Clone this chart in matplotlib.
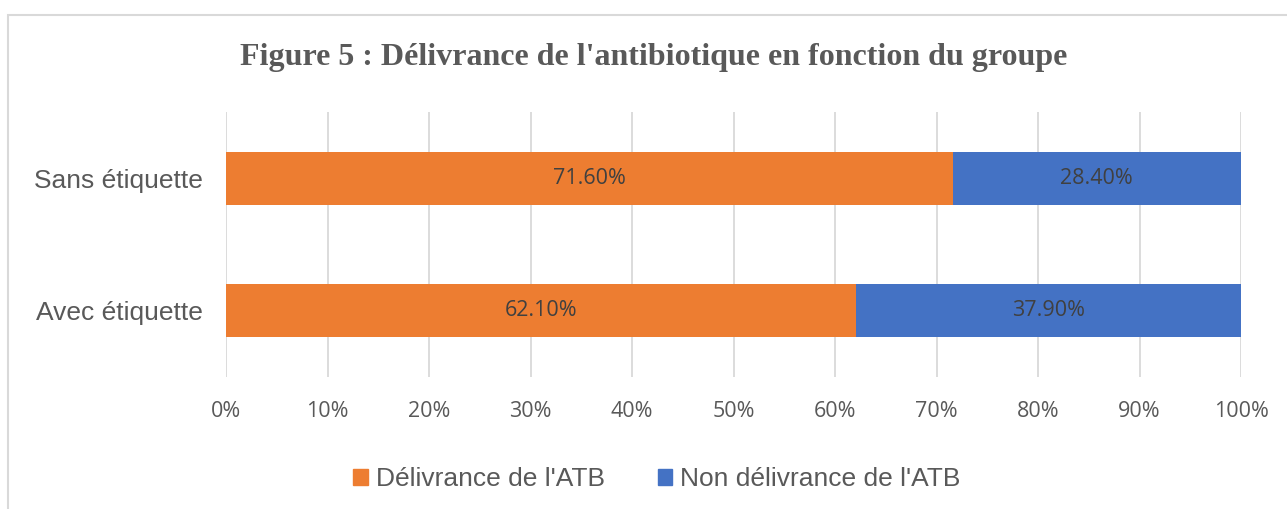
import matplotlib
matplotlib.use("Agg")
import matplotlib.pyplot as plt
from matplotlib.patches import Patch, Rectangle
import numpy as np

categories = ["Avec étiquette", "Sans étiquette"]
delivrance = [62.1, 71.6]
non_delivrance = [37.9, 28.4]
series_names = ["Délivrance de l'ATB", "Non délivrance de l'ATB"]
xticks = [0, 10, 20, 30, 40, 50, 60, 70, 80, 90, 100]
title = "Figure 5 : Délivrance de l'antibiotique en fonction du groupe"

ORANGE = "#ED7D31"
BLUE = "#4472C4"
GRID = "#D9D9D9"
TXT = "#595959"
LBL = "#404040"
sans = ["Liberation Sans Narrow", "Liberation Sans", "DejaVu Sans"]
tickfont = ["Open Sans", "DejaVu Sans"]

W, H = 1287, 509
fig = plt.figure(figsize=(W/100, H/100), dpi=100)
ax = fig.add_axes([226/W, 1-377/H, (1241-226)/W, 265/H])

y = np.arange(len(categories))
h = 0.4
ax.barh(y, delivrance, height=h, color=ORANGE, zorder=3)
ax.barh(y, non_delivrance, left=delivrance, height=h, color=BLUE, zorder=3)

for i in range(len(categories)):
    ax.text(delivrance[i]/2, y[i], f"{delivrance[i]:.2f}%", ha="center", va="center",
            fontsize=15.5, color=LBL, family=tickfont, zorder=4)
    ax.text(delivrance[i] + non_delivrance[i]/2, y[i], f"{non_delivrance[i]:.2f}%",
            ha="center", va="center", fontsize=15.5, color=LBL, family=tickfont, zorder=4)

ax.set_xlim(0, 100)
ax.set_ylim(-0.5, 1.5)
ax.set_xticks(xticks)
ax.set_xticklabels([f"{t}%" for t in xticks], fontsize=15.5, color=TXT, family=tickfont)
ax.set_yticks(y)
ax.set_yticklabels(categories, fontsize=19, color=TXT, family=sans)
ax.tick_params(axis="both", length=0)
ax.tick_params(axis="x", pad=17)
ax.tick_params(axis="y", pad=17)
ax.grid(axis="x", color=GRID, lw=1.3, zorder=0)
for s in ax.spines.values():
    s.set_visible(False)

fig.text(654/W, 1-58/H, title, ha="center", va="center", fontsize=23,
         fontweight="bold", color=TXT, family=["Liberation Serif", "DejaVu Serif"])

handles = [Patch(color=ORANGE), Patch(color=BLUE)]
leg = fig.legend(handles, series_names, loc="center", bbox_to_anchor=(657/W, 1-479/H),
                 ncol=2, frameon=False, prop={"family": sans, "size": 19},
                 handlelength=0.55, handleheight=0.55, handletextpad=0.3, columnspacing=2.0)
for t in leg.get_texts():
    t.set_color(TXT)

fig.patches.append(Rectangle((8/W, -0.2), 1.5, 1.2 - 15/H, transform=fig.transFigure,
                             fill=False, edgecolor=GRID, lw=1.5, zorder=0))

fig.savefig("out.png", dpi=100, facecolor="white")
